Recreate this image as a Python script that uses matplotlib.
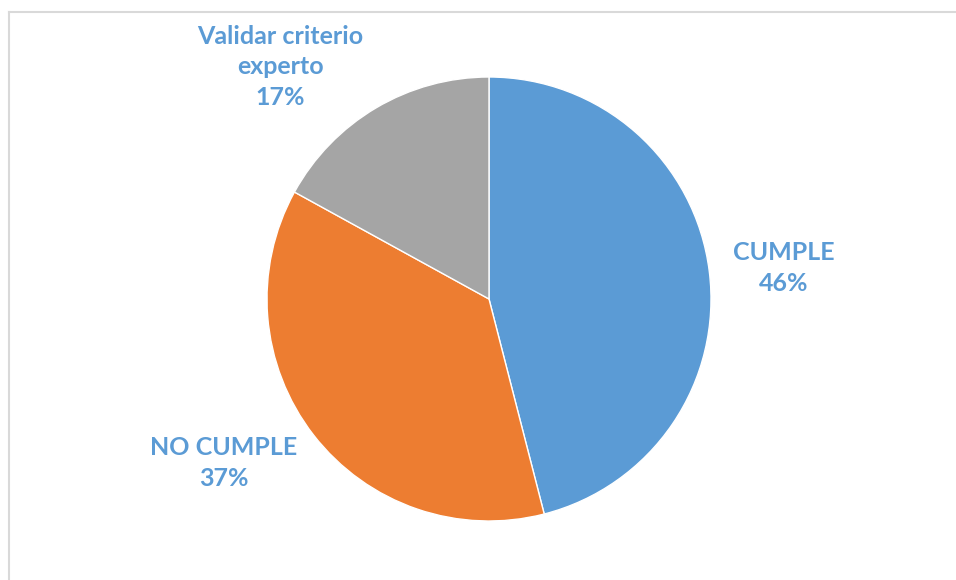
import matplotlib.pyplot as plt
from matplotlib.lines import Line2D

labels = ['CUMPLE', 'NO CUMPLE', 'Validar criterio\nexperto']
values = [46, 37, 17]
colors = ['#5B9BD5', '#ED7D31', '#A5A5A5']
label_pos = [(784, 268), (224, 463), (280, 67)]  # pixel centres of the labels

W, H = 956, 580
fig = plt.figure(figsize=(W / 100, H / 100), dpi=100)

# light frame (only left and top edges fall inside the picture)
fig.add_artist(Line2D([8.5 / W, 8.5 / W], [0, 1 - 11.5 / H], transform=fig.transFigure,
                      color='#D9D9D9', linewidth=1.5))
fig.add_artist(Line2D([8.5 / W, 1], [1 - 11.5 / H, 1 - 11.5 / H], transform=fig.transFigure,
                      color='#D9D9D9', linewidth=1.5))

cx, cy, r = 489, 299, 222
ax = fig.add_axes([(cx - r) / W, 1 - (cy + r) / H, 2 * r / W, 2 * r / H])
ax.pie(values, colors=colors, startangle=90, counterclock=False,
       wedgeprops=dict(edgecolor='white', linewidth=1))
ax.set_xlim(-1, 1)
ax.set_ylim(-1, 1)
ax.set_aspect('equal')

total = sum(values)
for lab, v, (px, py) in zip(labels, values, label_pos):
    fig.text(px / W, 1 - py / H, f'{lab}\n{round(100 * v / total)}%',
             ha='center', va='center', multialignment='center',
             color='#5B9BD5', fontsize=18, fontweight='bold', family='Lato',
             linespacing=1.4)

fig.savefig('out.png', dpi=100)
